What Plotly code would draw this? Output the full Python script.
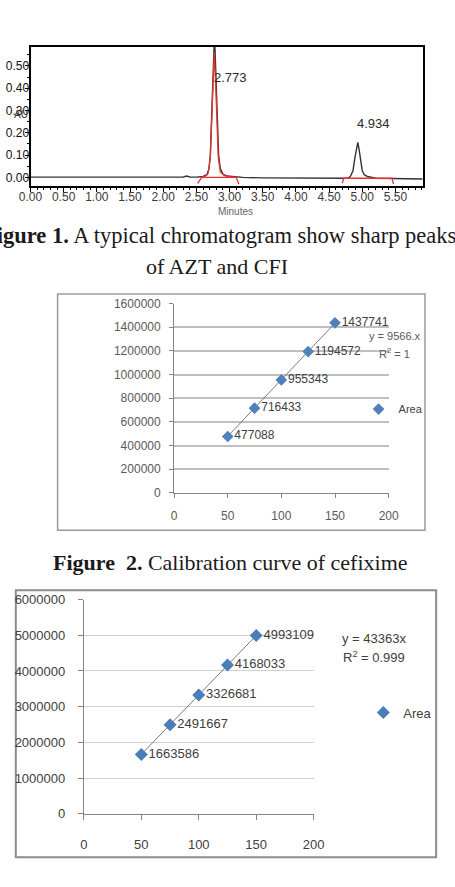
import plotly.graph_objects as go

W, H = 455, 887

def px(x):
    return x / W

def py(y):
    return 1 - y / H

# ---------------- Figure 1: chromatogram ----------------
chrom_t = [0.00, 0.50, 1.00, 1.50, 1.55, 1.60, 2.00, 2.30, 2.35, 2.40, 2.50, 2.60,
           2.66, 2.69, 2.71, 2.73, 2.75, 2.773, 2.795, 2.815, 2.835, 2.86, 2.90, 2.96,
           3.05, 3.20, 3.50, 4.00, 4.50, 4.78, 4.82, 4.86, 4.89, 4.91, 4.933, 4.955,
           4.975, 5.00, 5.03, 5.08, 5.20, 5.50, 5.91]
chrom_au = [0.001, 0.001, 0.000, 0.000, 0.003, 0.000, 0.000, 0.001, 0.006, 0.002, 0.001, 0.004,
            0.012, 0.040, 0.100, 0.250, 0.450, 0.640, 0.450, 0.250, 0.100, 0.040, 0.015, 0.006,
            0.003, 0.000, -0.002, -0.003, -0.004, -0.004, 0.004, 0.030, 0.090, 0.130, 0.157, 0.120,
            0.070, 0.030, 0.012, 0.004, -0.004, -0.005, -0.007]

# red integration marks
int1_t = [2.52, 2.58, 2.64, 2.68, 2.71, 2.73, 2.75, 2.77, 2.79, 2.81, 2.83, 2.86, 2.92, 3.00,
          3.10, 3.14, None, 2.58, 3.10]
int1_au = [-0.027, 0.000, 0.006, 0.020, 0.090, 0.240, 0.420, 0.560, 0.420, 0.240, 0.090, 0.025,
           0.008, 0.003, 0.000, -0.030, None, 0.000, 0.000]
int2_t = [4.70, 4.72, 5.45, 5.47]
int2_au = [-0.026, -0.004, -0.004, -0.030]

peak_rt = [2.773, 4.934]
peak_label_au = [0.448, 0.243]

chrom_xticks = [0.0, 0.5, 1.0, 1.5, 2.0, 2.5, 3.0, 3.5, 4.0, 4.5, 5.0, 5.5]
chrom_xlabels = ["0.00", "0.50", "1.00", "1.50", "2.00", "2.50", "3.00", "3.50",
                 "4.00", "4.50", "5.00", "5.50"]
chrom_yticks = [0.0, 0.1, 0.2, 0.3, 0.4, 0.5]
chrom_ylabels = ["0.00", "0.10", "0.20", "0.30", "0.40", "0.50"]

# ---------------- Figure 2: calibration of cefixime ----------------
conc = [50, 75, 100, 125, 150]
cfi_area = [477088, 716433, 955343, 1194572, 1437741]
cfi_slope = 9566
cfi_trend_x = [50, 150]

# ---------------- Figure 3: calibration (second) ----------------
azt_area = [1663586, 2491667, 3326681, 4168033, 4993109]

NB = "\u00a0\u00a0"

fig = go.Figure()

fig.add_trace(go.Scatter(x=chrom_t, y=chrom_au, mode="lines",
                         line=dict(color="#333333", width=1.4), showlegend=False,
                         xaxis="x", yaxis="y", hoverinfo="skip"))
fig.add_trace(go.Scatter(x=int1_t, y=int1_au, mode="lines",
                         line=dict(color="#E8312F", width=1.3), showlegend=False,
                         xaxis="x", yaxis="y", connectgaps=False, hoverinfo="skip"))
fig.add_trace(go.Scatter(x=int2_t, y=int2_au, mode="lines",
                         line=dict(color="#E8312F", width=1.3), showlegend=False,
                         xaxis="x", yaxis="y", hoverinfo="skip"))

# panel 2
fig.add_trace(go.Scatter(x=cfi_trend_x, y=[cfi_slope * v for v in cfi_trend_x], mode="lines",
                         line=dict(color="#7a7a7a", width=1), showlegend=False,
                         xaxis="x2", yaxis="y2"))
fig.add_trace(go.Scatter(x=conc, y=cfi_area, mode="markers", name="Area",
                         marker=dict(symbol="diamond", size=9, color="#4F81BD"),
                         xaxis="x2", yaxis="y2", legend="legend", cliponaxis=False))
fig.add_trace(go.Scatter(x=conc, y=cfi_area, mode="text", text=[NB + str(v) for v in cfi_area],
                         textposition="middle right",
                         textfont=dict(family="Liberation Sans", size=12, color="#404040"),
                         showlegend=False, xaxis="x2", yaxis="y2", cliponaxis=False))

# panel 3
fig.add_trace(go.Scatter(x=conc, y=azt_area, mode="lines",
                         line=dict(color="#7a7a7a", width=1), showlegend=False,
                         xaxis="x3", yaxis="y3"))
fig.add_trace(go.Scatter(x=conc, y=azt_area, mode="markers", name="Area",
                         marker=dict(symbol="diamond", size=10, color="#4A7EBB"),
                         xaxis="x3", yaxis="y3", legend="legend2", cliponaxis=False))
fig.add_trace(go.Scatter(x=conc, y=azt_area, mode="text", text=[NB + str(v) for v in azt_area],
                         textposition="middle right",
                         textfont=dict(family="Liberation Sans", size=13, color="#404040"),
                         showlegend=False, xaxis="x3", yaxis="y3", cliponaxis=False))

annotations = []
for rt, au in zip(peak_rt, peak_label_au):
    annotations.append(dict(x=rt, y=au, xref="x", yref="y", text=f"{rt:.3f}", showarrow=False,
                            xanchor="left", yanchor="middle", xshift=-3,
                            font=dict(family="Liberation Sans", size=13, color="#2a2a2a")))
annotations += [
    dict(x=0, y=py(109), xref="paper", yref="paper", text="AU", showarrow=False,
         xanchor="left", yanchor="middle", font=dict(family="Liberation Sans", size=10, color="#333")),
    dict(x=px(235), y=py(208), xref="paper", yref="paper", text="Minutes", showarrow=False,
         xanchor="center", yanchor="middle", font=dict(family="Liberation Sans", size=10, color="#666")),
    dict(x=px(219), y=py(232), xref="paper", yref="paper",
         text="<b>Figure 1.</b> A typical chromatogram show sharp peaks", showarrow=False,
         xanchor="center", yanchor="middle",
         font=dict(family="Liberation Serif", size=22.5, color="#1a1a1a")),
    dict(x=px(215.5), y=py(264), xref="paper", yref="paper",
         text="of AZT and CFI", showarrow=False, xanchor="center", yanchor="middle",
         font=dict(family="Liberation Serif", size=22, color="#1a1a1a")),
    dict(x=px(230), y=py(565), xref="paper", yref="paper",
         text="<b>Figure\u00a0 2.</b> Calibration curve of cefixime", showarrow=False,
         xanchor="center", yanchor="middle",
         font=dict(family="Liberation Serif", size=22, color="#1a1a1a")),
    dict(x=px(403), y=py(335), xref="paper", yref="paper", text="y = 9566.x", showarrow=False,
         xanchor="center", yanchor="middle", font=dict(family="Liberation Sans", size=11, color="#595959")),
    dict(x=px(402.5), y=py(352), xref="paper", yref="paper", text="R<sup>2</sup> = 1", showarrow=False,
         xanchor="center", yanchor="middle", font=dict(family="Liberation Sans", size=11, color="#595959")),
    dict(x=px(381.7), y=py(642), xref="paper", yref="paper", text="y = 43363x", showarrow=False,
         xanchor="center", yanchor="middle", font=dict(family="Liberation Sans", size=13, color="#404040")),
    dict(x=px(381), y=py(661), xref="paper", yref="paper", text="R<sup>2</sup> = 0.999", showarrow=False,
         xanchor="center", yanchor="middle", font=dict(family="Liberation Sans", size=13, color="#404040")),
]

shapes = [
    dict(type="rect", xref="paper", yref="paper", x0=px(48), x1=px(435), y0=py(532.3), y1=py(292),
         line=dict(color="#9a9a9a", width=1.5), layer="below"),
    dict(type="rect", xref="paper", yref="paper", x0=px(4), x1=px(446.7), y0=py(865), y1=py(593.3),
         line=dict(color="#8c8c8c", width=2), layer="below"),
]

fig.update_layout(
    width=W, height=H, margin=dict(l=0, r=0, t=0, b=0),
    paper_bgcolor="white", plot_bgcolor="rgba(0,0,0,0)",
    annotations=annotations, shapes=shapes,
    xaxis=dict(domain=[px(19.5), px(432.5)], range=[0, 5.91], anchor="y",
               tickvals=chrom_xticks, ticktext=chrom_xlabels, ticks="outside", ticklen=5,
               tickcolor="black", minor=dict(dtick=0.1, ticks="outside", ticklen=3, tickcolor="black"),
               showline=True, linecolor="black", linewidth=1.5, mirror=True,
               showgrid=False, zeroline=False, ticklabelstandoff=-6,
               tickfont=dict(family="Liberation Sans", size=12, color="#3a3a3a")),
    yaxis=dict(domain=[py(181.7), py(40.7)], range=[-0.037, 0.585], anchor="x",
               tickvals=chrom_yticks, ticktext=chrom_ylabels, ticks="outside", ticklen=4,
               tickcolor="black", minor=dict(dtick=0.05, ticks="outside", ticklen=2, tickcolor="black"),
               showline=True, linecolor="black", linewidth=2, mirror=True,
               showgrid=False, zeroline=False, ticklabelstandoff=-7,
               tickfont=dict(family="Liberation Sans", size=12, color="#111")),
    xaxis2=dict(domain=[px(170.7), px(396.7)], range=[0, 200], dtick=50, anchor="y2",
                ticks="outside", ticklen=4, tickcolor="#868686",
                showline=True, linecolor="#868686", linewidth=1, showgrid=False, zeroline=False,
                ticklabelstandoff=8,
                tickfont=dict(family="Liberation Sans", size=12, color="#595959")),
    yaxis2=dict(domain=[py(494.3), py(301.7)], range=[0, 1600000], dtick=200000, tickformat="d",
                anchor="x2", ticks="outside", ticklen=4, tickcolor="#868686",
                showline=True, linecolor="#868686", linewidth=1,
                showgrid=True, gridcolor="#BFBFBF", gridwidth=1.5, zeroline=False,
                ticklabelstandoff=6,
                tickfont=dict(family="Liberation Sans", size=12, color="#595959")),
    xaxis3=dict(domain=[px(75.7), px(317.7)], range=[0, 200], dtick=50, anchor="y3",
                ticks="outside", ticklen=5, tickcolor="#868686",
                showline=True, linecolor="#868686", linewidth=1, showgrid=False, zeroline=False,
                ticklabelstandoff=14,
                tickfont=dict(family="Liberation Sans", size=13, color="#404040")),
    yaxis3=dict(domain=[py(820.7), py(602.7)], range=[0, 6000000], dtick=1000000, tickformat="d",
                anchor="x3", ticks="outside", ticklen=5, tickcolor="#868686",
                showline=True, linecolor="#868686", linewidth=1,
                showgrid=True, gridcolor="#D0D0D0", gridwidth=1.2, zeroline=False,
                ticklabelstandoff=10,
                tickfont=dict(family="Liberation Sans", size=13, color="#404040")),
    legend=dict(x=px(365), y=py(409), xanchor="left", yanchor="middle",
                bgcolor="rgba(0,0,0,0)", borderwidth=0,
                font=dict(family="Liberation Sans", size=11, color="#404040")),
    legend2=dict(x=px(370), y=py(717.7), xanchor="left", yanchor="middle",
                 bgcolor="rgba(0,0,0,0)", borderwidth=0,
                 font=dict(family="Liberation Sans", size=13, color="#404040")),
)

fig.write_html("out.html")
